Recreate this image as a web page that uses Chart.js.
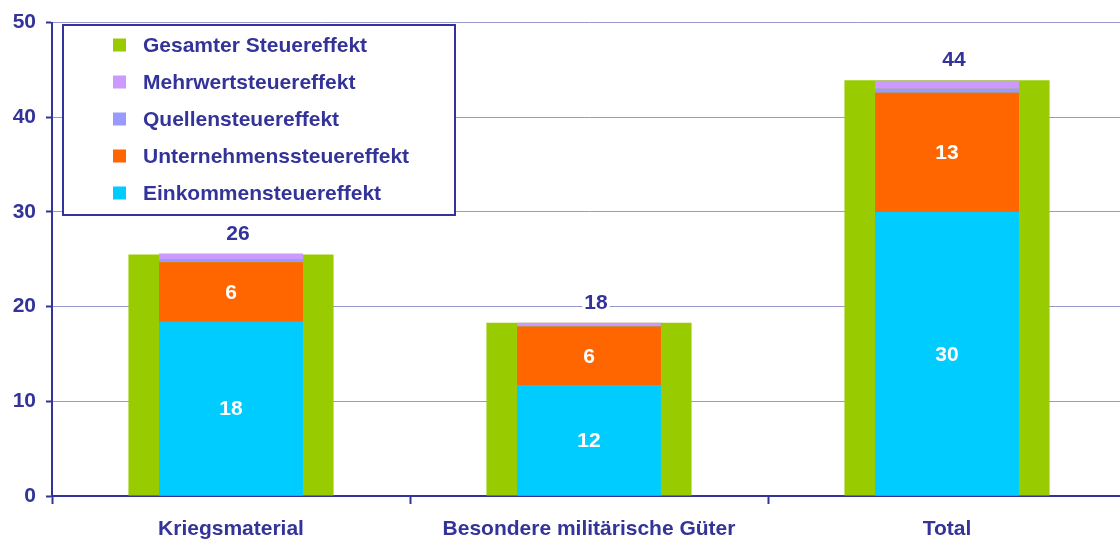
<!DOCTYPE html>
<html>
<head>
<meta charset="utf-8">
<script src="https://cdn.jsdelivr.net/npm/chart.js@4/dist/chart.umd.min.js"></script>
<style>
  html, body { margin: 0; padding: 0; background: #fff; overflow: hidden; width: 1120px; height: 540px; }
  #wrap { position: relative; width: 1126px; height: 540px; }
</style>
</head>
<body>
<div id="wrap"><canvas id="chart"></canvas></div>
<script>
// Kategorien und Werte
const kategorien = ['Kriegsmaterial', 'Besondere militärische Güter', 'Total'];
const einkommen = [18.4, 11.7, 30.0];
const unternehmen = [6.3, 6.2, 12.6];
const quellen = [0.3, 0.05, 0.42];
const mehrwert = [0.6, 0.35, 0.84];
const gesamt = [25.5, 18.3, 43.9];
const yTicks = [0, 10, 20, 30, 40, 50];

const TEXT = '#333399';
const FONT = "bold 21px 'Liberation Sans', Arial, sans-serif";

Chart.defaults.font.family = "'Liberation Sans', Arial, sans-serif";
Chart.defaults.font.size = 21;
Chart.defaults.font.weight = 'bold';
Chart.defaults.color = TEXT;

const schmal = { grouped: false, stack: 'teile', categoryPercentage: 1, barPercentage: 0.402 };

const datasets = [
    { label: 'Einkommensteuereffekt', data: einkommen, backgroundColor: '#00ccff', ...schmal },
    { label: 'Unternehmenssteuereffekt', data: unternehmen, backgroundColor: '#ff6600', ...schmal },
    { label: 'Quellensteuereffekt', data: quellen, backgroundColor: '#9999ff', ...schmal },
    { label: 'Mehrwertsteuereffekt', data: mehrwert, backgroundColor: '#cc99ff', ...schmal },
    { label: 'Gesamter Steuereffekt', data: gesamt, backgroundColor: '#99cc00',
      grouped: false, stack: 'gesamt', categoryPercentage: 1, barPercentage: 0.573 }
];

// Werte in den Balken + Totale darüber
const labelPlugin = {
    id: 'labels',
    afterDatasetsDraw(chart) {
        const ctx = chart.ctx;
        ctx.save();
        ctx.font = FONT;
        ctx.textAlign = 'center';
        ctx.textBaseline = 'middle';
        ctx.fillStyle = '#ffffff';
        [0, 1].forEach(di => {
            const meta = chart.getDatasetMeta(di);
            meta.data.forEach((bar, i) => {
                const v = chart.data.datasets[di].data[i];
                ctx.fillText(String(Math.round(v)), bar.x, (bar.y + bar.base) / 2 + 1);
            });
        });
        ctx.restore();
    },
    afterDraw(chart) {
        const ctx = chart.ctx;
        ctx.save();
        ctx.font = FONT;
        ctx.textAlign = 'center';
        ctx.textBaseline = 'middle';
        const meta = chart.getDatasetMeta(4);
        meta.data.forEach((bar, i) => {
            const txt = String(Math.round(gesamt[i]));
            const x = bar.x + 7;
            const y = bar.y - 21;
            const w = ctx.measureText(txt).width;
            ctx.fillStyle = '#ffffff';
            ctx.fillRect(x - w / 2 - 2, y - 10, w + 4, 20);
            ctx.fillStyle = TEXT;
            ctx.fillText(txt, x, y + 1);
        });

        // Legende
        const bx = 63, by = 25, bw = 392, bh = 190;
        ctx.fillStyle = '#ffffff';
        ctx.fillRect(bx, by, bw, bh);
        ctx.strokeStyle = TEXT;
        ctx.lineWidth = 2;
        ctx.strokeRect(bx, by, bw, bh);
        const items = chart.data.datasets.slice().reverse();
        ctx.textAlign = 'left';
        items.forEach((ds, k) => {
            const cy = 45 + k * 37;
            ctx.fillStyle = ds.backgroundColor;
            ctx.fillRect(113, cy - 6.5, 13, 13);
            ctx.fillStyle = TEXT;
            ctx.fillText(ds.label, 143, cy + 1);
        });
        ctx.restore();
    }
};

new Chart(document.getElementById('chart'), {
    type: 'bar',
    data: { labels: kategorien, datasets: datasets },
    options: {
        responsive: true,
        maintainAspectRatio: false,
        animation: false,
        layout: { padding: { top: 20, right: 0, left: 0, bottom: 0 } },
        plugins: { legend: { display: false }, tooltip: { enabled: false } },
        scales: {
            x: {
                afterFit: s => { s.height = 44; },
                grid: { display: true, offset: true, drawOnChartArea: false, drawTicks: true,
                        tickLength: 8, tickColor: TEXT, tickWidth: 2 },
                border: { color: TEXT, width: 2 },
                ticks: { padding: 13, color: TEXT, font: { size: 21, weight: 'bold' } }
            },
            y: {
                stacked: true,
                min: 0,
                max: 50,
                afterFit: s => { s.width = 52; },
                afterBuildTicks: s => { s.ticks = yTicks.map(v => ({ value: v })); },
                grid: { color: '#9999cc', lineWidth: 1, tickLength: 6, tickColor: TEXT, tickWidth: 2 },
                border: { color: TEXT, width: 2 },
                ticks: { padding: 10, color: TEXT, font: { size: 21, weight: 'bold' } }
            }
        }
    },
    plugins: [labelPlugin]
});
</script>
</body>
</html>
